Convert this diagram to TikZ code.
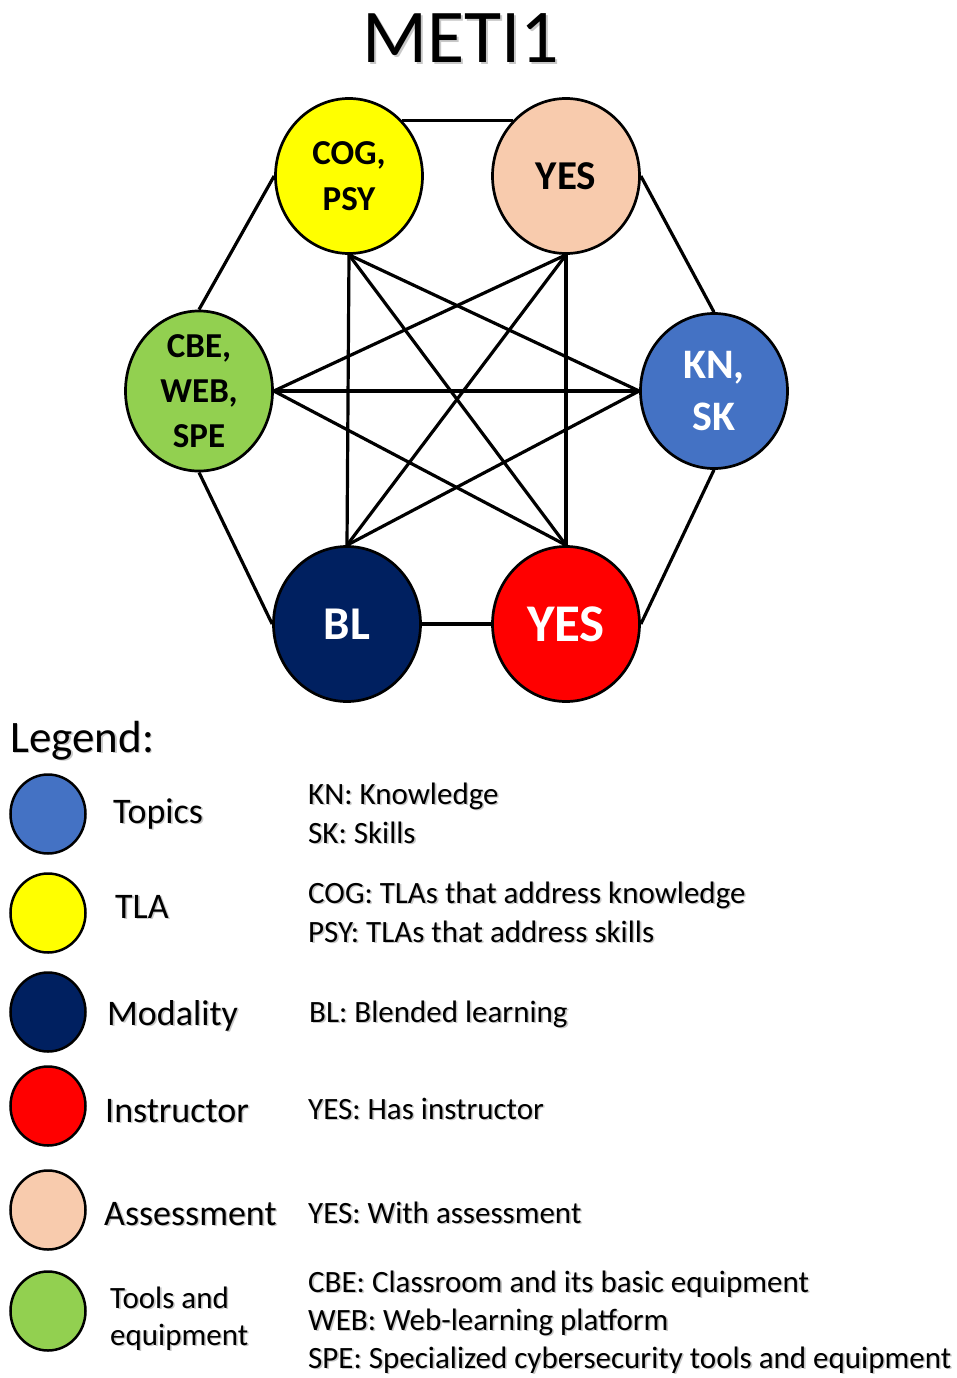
\documentclass[tikz,border=0pt]{standalone}
\usepackage{fontspec}
\setmainfont{Carlito}
\usetikzlibrary{shapes.geometric}
\pgfdeclarelayer{background}
\pgfsetlayers{background,main}

\definecolor{topicblue}{HTML}{4472C4}
\definecolor{tlayellow}{HTML}{FFFF00}
\definecolor{modnavy}{HTML}{002060}
\definecolor{instred}{HTML}{FF0000}
\definecolor{assesspeach}{HTML}{F8CBAD}
\definecolor{toolgreen}{HTML}{92D050}
\definecolor{shadowgray}{HTML}{C8C8C8}

\newcommand{\fsz}[2]{\fontsize{#1}{#2}\selectfont}
% text with a soft grey drop shadow behind it
\newcommand{\shd}[1]{\leavevmode\rlap{\kern1.6pt\raisebox{-1.6pt}{\textcolor{shadowgray}{#1}}}#1}

\begin{document}
\begin{tikzpicture}[x=1pt,y=-1pt,
  bubble/.style={ellipse,draw=black,line width=2.7pt,minimum width=147pt,
    minimum height=155pt,inner sep=0pt,align=center},
  keydot/.style={ellipse,draw=black,line width=2.5pt,minimum width=75pt,
    minimum height=79pt,inner sep=0pt},
  link/.style={line width=3.2pt},
  keyname/.style={anchor=base west,inner sep=0pt,font=\fsz{36}{40}},
  keydesc/.style={anchor=base west,inner sep=0pt,font=\fsz{31}{38}}]

\useasboundingbox (0,0) rectangle (956,1378);

% title
\node[font=\fsz{76}{80}] (title) at (461,39) {\shd{METI1}};

% the six dimension bubbles
\node[bubble,fill=tlayellow,font=\bfseries\fsz{35}{46}] (tla) at (349,176) {COG,\\PSY};
\node[bubble,fill=assesspeach,font=\bfseries\fsz{41}{46}] (assess) at (566,176) {YES};
\node[bubble,fill=toolgreen,font=\bfseries\fsz{35}{45}] (tools) at (199,391) {CBE,\\WEB,\\SPE};
\node[bubble,fill=topicblue,text=white,font=\bfseries\fsz{42}{52}] (topics) at (714,391) {KN,\\SK};
\node[bubble,fill=modnavy,text=white,font=\bfseries\fsz{47}{52}] (modality) at (347,624) {BL};
\node[bubble,fill=instred,text=white,font=\bfseries\fsz{53}{56}] (instr) at (566,624) {YES};

% every pair of bubbles is linked
\begin{pgfonlayer}{background}
  \draw[link] (tla.north east) -- (assess.north west);
  \draw[link] (tla.west) -- (tools.north);
  \draw[link] (assess.east) -- (topics.north);
  \draw[link] (tools.south) -- (modality.west);
  \draw[link] (topics.south) -- (instr.east);
  \draw[link] (modality.east) -- (instr.west);
  \draw[link] (tla.south) -- (modality.north);
  \draw[link] (assess.south) -- (instr.north);
  \draw[link] (tools.east) -- (topics.west);
  \draw[link] (tla.south) -- (instr.north);
  \draw[link] (tla.south) -- (topics.west);
  \draw[link] (assess.south) -- (modality.north);
  \draw[link] (assess.south) -- (tools.east);
  \draw[link] (tools.east) -- (instr.north);
  \draw[link] (topics.west) -- (modality.north);
\end{pgfonlayer}

% legend
\node[anchor=base west,inner sep=0pt,font=\fsz{45}{50}] (legend) at (10,752) {\shd{Legend:}};

\node[keydot,fill=topicblue] (kTopics) at (48,814) {};
\node[keyname] (nTopics) at (113,823) {\shd{Topics}};
\node[keydesc] (dKN) at (308,804) {\shd{KN: Knowledge}};
\node[keydesc] (dSK) at (308,843) {\shd{SK: Skills}};

\node[keydot,fill=tlayellow] (kTLA) at (48,913) {};
\node[keyname] (nTLA) at (115,918) {\shd{TLA}};
\node[keydesc] (dCOG) at (308,903) {\shd{COG: TLAs that address knowledge}};
\node[keydesc] (dPSY) at (308,942) {\shd{PSY: TLAs that address skills}};

\node[keydot,fill=modnavy] (kMod) at (48,1012) {};
\node[keyname] (nMod) at (107,1025) {\shd{Modality}};
\node[keydesc] (dBL) at (309,1022) {\shd{BL: Blended learning}};

\node[keydot,fill=instred] (kInstr) at (48,1106) {};
\node[keyname] (nInstr) at (105,1122) {\shd{Instructor}};
\node[keydesc] (dInstr) at (308,1119) {\shd{YES: Has instructor}};

\node[keydot,fill=assesspeach] (kAssess) at (48,1210) {};
\node[keyname] (nAssess) at (104,1225) {\shd{Assessment}};
\node[keydesc] (dAssess) at (308,1223) {\shd{YES: With assessment}};

\node[keydot,fill=toolgreen] (kTools) at (48,1311) {};
\node[keydesc] (nTools1) at (110,1308) {\shd{Tools and}};
\node[keydesc] (nTools2) at (110,1345) {\shd{equipment}};
\node[keydesc] (dCBE) at (308,1292) {\shd{CBE: Classroom and its basic equipment}};
\node[keydesc] (dWEB) at (308,1330) {\shd{WEB: Web-learning platform}};
\node[keydesc] (dSPE) at (308,1368) {\shd{SPE: Specialized cybersecurity tools and equipment}};

\end{tikzpicture}
\end{document}
